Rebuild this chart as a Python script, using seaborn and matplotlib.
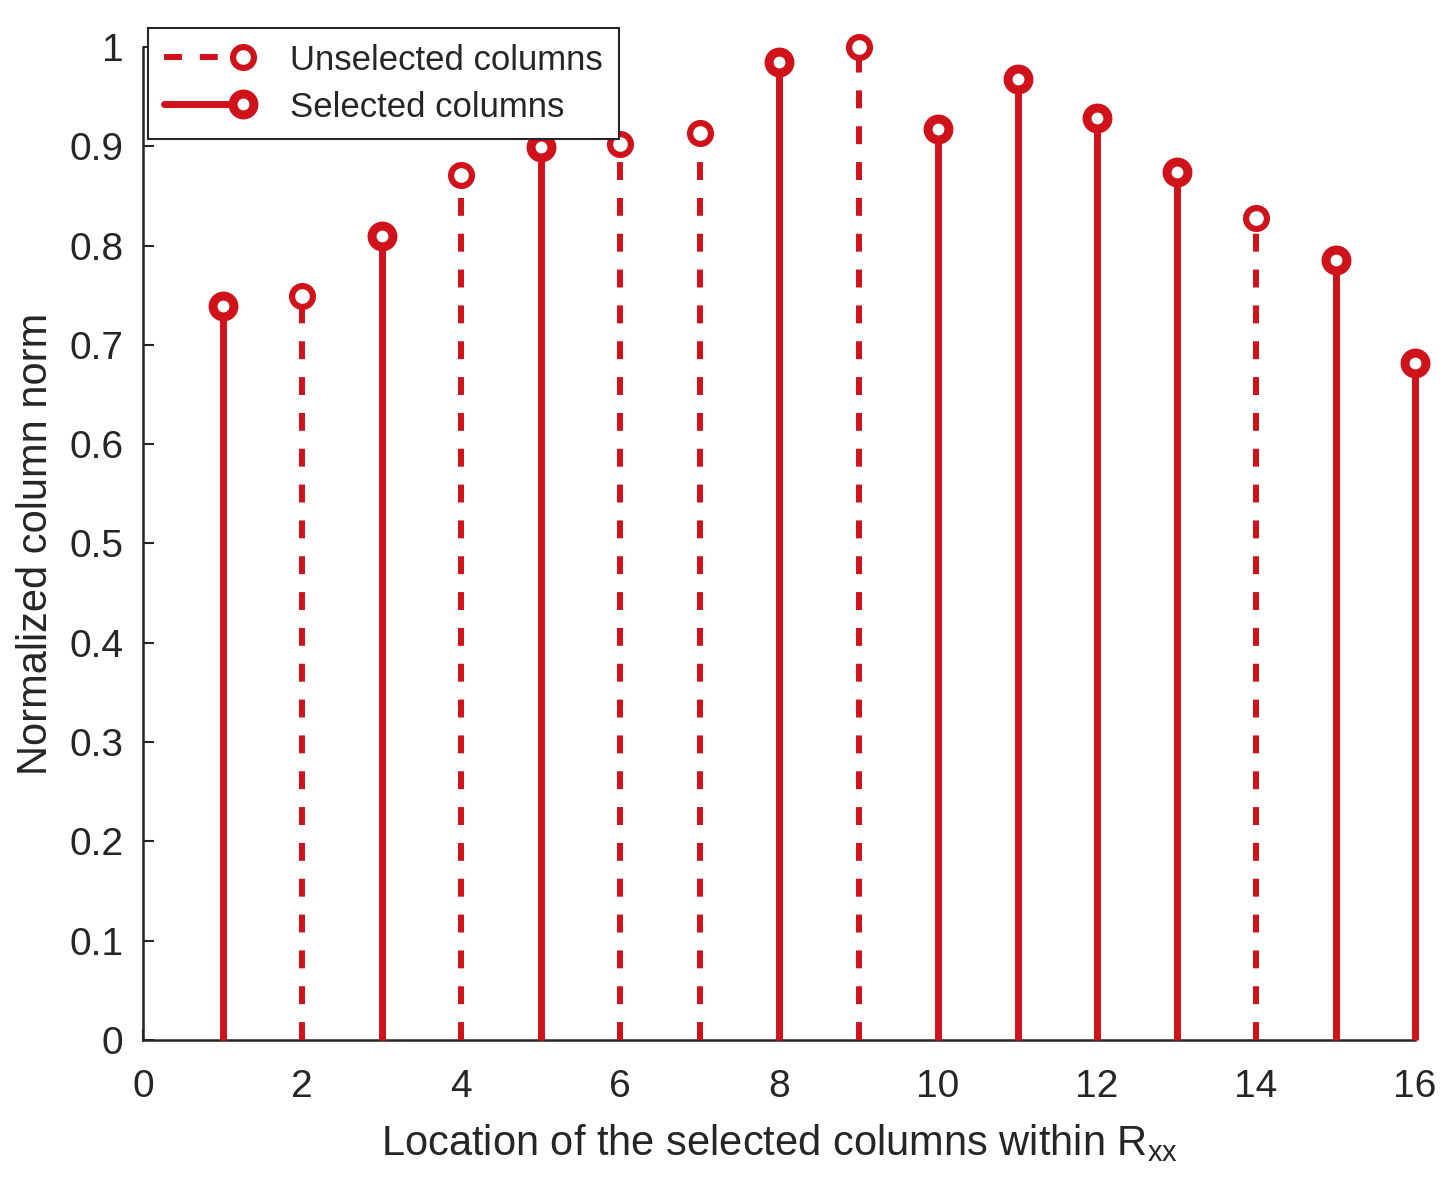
import numpy as np
import pandas as pd
import seaborn as sns
import matplotlib
matplotlib.use("Agg")
import matplotlib.pyplot as plt
from matplotlib.lines import Line2D
from matplotlib.legend_handler import HandlerLine2D

# ---- data ----
column_index = [1, 2, 3, 4, 5, 6, 7, 8, 9, 10, 11, 12, 13, 14, 15, 16]
column_norm = [0.739, 0.749, 0.810, 0.871, 0.899, 0.902, 0.913, 0.985, 1.000,
               0.917, 0.968, 0.929, 0.874, 0.828, 0.785, 0.682]
is_selected = [True, False, True, False, True, False, False, True, False,
               True, True, True, True, False, True, True]
legend_labels = ["Unselected columns", "Selected columns"]
x_ticks = [0, 2, 4, 6, 8, 10, 12, 14, 16]
y_ticks = [0, 0.1, 0.2, 0.3, 0.4, 0.5, 0.6, 0.7, 0.8, 0.9, 1]
y_tick_labels = ["0", "0.1", "0.2", "0.3", "0.4", "0.5", "0.6", "0.7", "0.8", "0.9", "1"]

df = pd.DataFrame({"x": column_index, "y": column_norm, "sel": is_selected})

sns.set_style("ticks")
plt.rcParams["font.family"] = ["Liberation Sans", "DejaVu Sans"]
plt.rcParams["mathtext.fontset"] = "custom"
plt.rcParams["mathtext.rm"] = "Liberation Sans"

RED = "#D0121B"
TXT = "#262626"

fig = plt.figure(figsize=(14.51, 11.93), dpi=100)
ax = fig.add_axes([0.0986, 0.1283, 0.8766, 0.8323])

sel = df[df.sel]
uns = df[~df.sel]

# stems
ax.vlines(sel.x, 0, sel.y, colors=RED, linewidth=5, zorder=3, clip_on=False)
ax.vlines(uns.x, 0, uns.y, colors=RED, linewidth=4.3, linestyles=(0, (3, 3)),
          zorder=3, clip_on=False)

# markers
sns.scatterplot(data=sel, x="x", y="y", ax=ax, marker="o", s=15 ** 2,
                facecolor="white", edgecolor=RED, linewidth=6.5, zorder=4,
                clip_on=False, legend=False)
sns.scatterplot(data=uns, x="x", y="y", ax=ax, marker="o", s=15 ** 2,
                facecolor="white", edgecolor=RED, linewidth=4.5, zorder=4,
                clip_on=False, legend=False)

ax.set_xlim(0, 16)
ax.set_ylim(0, 1)
ax.set_xticks(x_ticks)
ax.set_yticks(y_ticks)
ax.set_yticklabels(y_tick_labels)
sns.despine(ax=ax)
for s in ["left", "bottom"]:
    ax.spines[s].set_color(TXT)
    ax.spines[s].set_linewidth(1.8)
ax.tick_params(axis="both", direction="in", length=8, width=1.5, color=TXT,
               labelsize=28, labelcolor=TXT)
ax.tick_params(axis="x", pad=21)
ax.tick_params(axis="y", pad=14)

ax.set_xlabel("Location of the selected columns within R$_{\\mathregular{xx}}$",
              fontsize=30, color=TXT, labelpad=12)
ax.set_ylabel("Normalized column norm", fontsize=30, color=TXT, labelpad=10)


class EndMarkerHandler(HandlerLine2D):
    def create_artists(self, legend, orig_handle, xdescent, ydescent, width,
                       height, fontsize, trans):
        artists = super().create_artists(legend, orig_handle, xdescent, ydescent,
                                         width, height, fontsize, trans)
        if len(artists) == 1:
            ln = artists[0]
            n = len(ln.get_xdata())
            ln.set_markevery([n - 1])
        else:
            line, mk = artists[0], artists[1]
            mk.set_xdata([line.get_xdata()[-1]])
        return artists


h_uns = Line2D([], [], color=RED, linewidth=4.3, linestyle=(0, (3, 3)),
               marker="o", markersize=15, markerfacecolor="white",
               markeredgecolor=RED, markeredgewidth=4.5)
h_sel = Line2D([], [], color=RED, linewidth=5, linestyle="-",
               marker="o", markersize=15, markerfacecolor="white",
               markeredgecolor=RED, markeredgewidth=6.5)
leg = fig.legend([h_uns, h_sel], legend_labels, loc="upper left",
                 bbox_to_anchor=(148 / 1451, 1 - 28 / 1193),
                 fontsize=25, frameon=True, fancybox=False, framealpha=1,
                 edgecolor=TXT, borderpad=0.45, handlelength=2.3,
                 handletextpad=1.35, labelspacing=0.4, numpoints=1,
                 handler_map={Line2D: EndMarkerHandler()},
                 borderaxespad=0)
leg.get_frame().set_linewidth(1.5)
for t in leg.get_texts():
    t.set_color(TXT)

fig.savefig("out.png", dpi=100)
